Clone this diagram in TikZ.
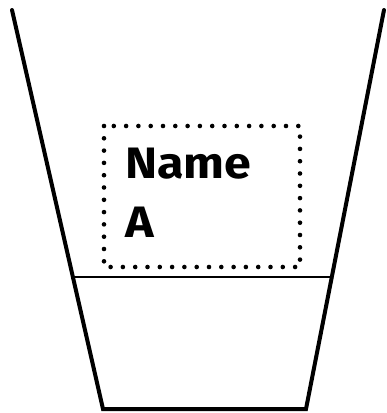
\documentclass[tikz,border=0pt]{standalone}
\usepackage{fontspec}
\setmainfont{Fira Sans}
\tikzset{
  cupline/.style={line width=4pt, line join=miter, line cap=round},
  levelline/.style={line width=1.3pt},
  dotbox/.style={line width=4.6pt, line cap=round, dash pattern=on 0pt off 12.3pt},
  label/.style={anchor=base west, inner sep=0pt, font=\fontsize{44}{44}\selectfont\bfseries}
}
\begin{document}
\begin{tikzpicture}[x=1pt,y=-1pt]
\useasboundingbox (0,0) rectangle (387,413);
\coordinate (tl) at (12,10);
\coordinate (bl) at (103,409);
\coordinate (br) at (306,409);
\coordinate (tr) at (384,10);
\coordinate (ll) at (75,277);
\coordinate (lr) at (331,277);
\draw[cupline] (tl) -- (bl) -- (br) -- (tr);
\draw[levelline] (ll) -- (lr);
\draw[dotbox] (104,126) rectangle (300,267);
\node[label] (name) at (125,178) {\scalebox{1.1}[1]{Name}};
\node[label] (a) at (125,237) {\scalebox{1.1}[1]{A}};
\end{tikzpicture}
\end{document}
